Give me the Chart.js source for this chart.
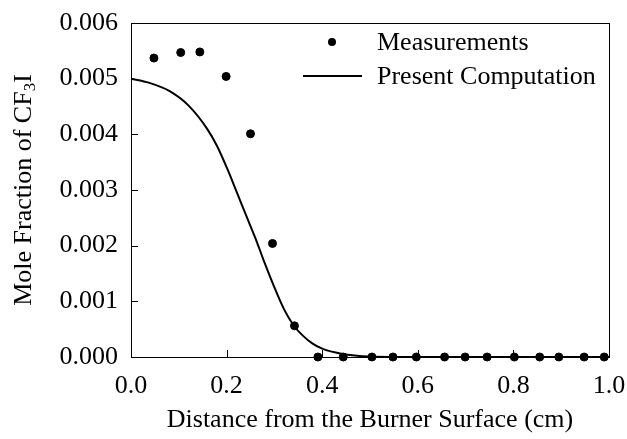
<!DOCTYPE html>
<html>
<head>
<meta charset="utf-8">
<script src="https://cdn.jsdelivr.net/npm/chart.js@4/dist/chart.umd.min.js"></script>
<style>
  html, body { margin: 0; padding: 0; background: #fff; }
  #wrap { width: 627px; height: 439px; }
</style>
</head>
<body>
<div id="wrap"><canvas id="myChart" width="627" height="439"></canvas></div>
<script>
// measured CF3I mole fraction vs distance from burner surface
const measX = [0.048, 0.104, 0.144, 0.199, 0.250, 0.296, 0.342, 0.391, 0.444, 0.504,
               0.548, 0.597, 0.656, 0.699, 0.745, 0.802, 0.855, 0.895, 0.948, 0.990];
const measY = [0.00537, 0.00547, 0.00548, 0.00504, 0.00401, 0.00204, 0.00056, 0, 0, 0,
               0, 0, 0, 0, 0, 0, 0, 0, 0, 0];

// computed profile
const compX = [0, 0.04, 0.08, 0.12, 0.16, 0.18, 0.20, 0.22, 0.24, 0.26, 0.28, 0.30, 0.32,
               0.34, 0.36, 0.38, 0.40, 0.44, 0.50, 0.60, 1.0];
const compY = [0.00500, 0.00492, 0.00478, 0.00452, 0.00409, 0.00379, 0.00341, 0.00299, 0.00256,
               0.00214, 0.00168, 0.00125, 0.00086, 0.00057, 0.00038, 0.00024, 0.00015, 0.00006,
               0.00001, 0, 0];

const xTicks = [0, 0.2, 0.4, 0.6, 0.8, 1.0];
const yTicks = [0, 0.001, 0.002, 0.003, 0.004, 0.005, 0.006];

const FONT = 'Liberation Serif';
const SIZE = 26;

const toPoints = (xs, ys) => xs.map((x, i) => ({x: x, y: ys[i]}));

// box, inward ticks, y title with subscript, legend
const decor = {
    id: 'decor',
    afterDraw(chart) {
        const ctx = chart.ctx;
        const a = chart.chartArea;
        const xs = chart.scales.x, ys = chart.scales.y;
        ctx.save();
        ctx.strokeStyle = '#000';
        ctx.lineWidth = 1;
        ctx.strokeRect(a.left + 0.5, a.top + 0.5, a.right - a.left, a.bottom - a.top);

        ctx.beginPath();
        xTicks.forEach(v => {
            const px = Math.round(xs.getPixelForValue(v)) + 0.5;
            ctx.moveTo(px, a.bottom);
            ctx.lineTo(px, a.bottom - 7);
        });
        yTicks.forEach(v => {
            const py = Math.round(ys.getPixelForValue(v)) + 0.5;
            ctx.moveTo(a.left, py);
            ctx.lineTo(a.left + 7, py);
        });
        ctx.stroke();

        // y axis title
        ctx.fillStyle = '#000';
        ctx.textBaseline = 'middle';
        ctx.textAlign = 'left';
        const main = SIZE + 'px "' + FONT + '"';
        const sub = Math.round(SIZE * 0.65) + 'px "' + FONT + '"';
        const p1 = 'Mole Fraction of CF', p2 = '3', p3 = 'I';
        ctx.font = main;
        const w1 = ctx.measureText(p1).width, w3 = ctx.measureText(p3).width;
        ctx.font = sub;
        const w2 = ctx.measureText(p2).width;
        const total = w1 + w2 + w3;
        ctx.translate(24, (a.top + a.bottom) / 2);
        ctx.rotate(-Math.PI / 2);
        let x0 = -total / 2;
        ctx.font = main;
        ctx.fillText(p1, x0, 0);
        ctx.font = sub;
        ctx.fillText(p2, x0 + w1, 7);
        ctx.font = main;
        ctx.fillText(p3, x0 + w1 + w2, 0);
        ctx.restore();

        // legend
        ctx.save();
        ctx.fillStyle = '#000';
        ctx.strokeStyle = '#000';
        ctx.font = main;
        ctx.textBaseline = 'middle';
        ctx.textAlign = 'left';
        const ds = chart.data.datasets;
        ctx.beginPath();
        ctx.arc(332, 42, 4, 0, Math.PI * 2);
        ctx.fill();
        ctx.fillText(ds[0].label, 377, 43);
        ctx.lineWidth = 2;
        ctx.beginPath();
        ctx.moveTo(303, 76);
        ctx.lineTo(362, 76);
        ctx.stroke();
        ctx.fillText(ds[1].label, 377, 77);
        ctx.restore();
    }
};

const ctx = document.getElementById('myChart').getContext('2d');
const myChart = new Chart(ctx, {
    type: 'scatter',
    data: {
        datasets: [
            {
                label: 'Measurements',
                data: toPoints(measX, measY),
                pointRadius: 4,
                pointHoverRadius: 4,
                backgroundColor: '#000',
                borderColor: '#000',
                showLine: false,
                clip: false
            },
            {
                label: 'Present Computation',
                data: toPoints(compX, compY),
                showLine: true,
                pointRadius: 0,
                borderColor: '#000',
                borderWidth: 2,
                cubicInterpolationMode: 'monotone',
                clip: false
            }
        ]
    },
    options: {
        responsive: false,
        animation: false,
        events: [],
        layout: {padding: {left: 0, top: 23, right: 18, bottom: 0}},
        plugins: {
            legend: {display: false},
            tooltip: {enabled: false}
        },
        scales: {
            x: {
                type: 'linear',
                min: 0,
                max: 1,
                afterBuildTicks: s => { s.ticks = xTicks.map(v => ({value: v})); },
                afterFit: s => { s.height = 82; s.paddingLeft = 0; s.paddingRight = 0; },
                grid: {display: false, drawTicks: false},
                border: {display: false},
                ticks: {
                    padding: 14,
                    color: '#000',
                    font: {family: FONT, size: SIZE},
                    callback: v => v.toFixed(1)
                },
                title: {
                    display: true,
                    text: 'Distance from the Burner Surface (cm)',
                    color: '#000',
                    font: {family: FONT, size: SIZE},
                    padding: {top: 0, bottom: 3}
                }
            },
            y: {
                type: 'linear',
                min: 0,
                max: 0.006,
                afterBuildTicks: s => { s.ticks = yTicks.map(v => ({value: v})); },
                afterFit: s => { s.width = 131; s.paddingTop = 0; s.paddingBottom = 0; },
                grid: {display: false, drawTicks: false},
                border: {display: false},
                ticks: {
                    padding: 13,
                    color: '#000',
                    font: {family: FONT, size: SIZE},
                    callback: v => v.toFixed(3)
                }
            }
        }
    },
    plugins: [decor]
});
</script>
</body>
</html>
